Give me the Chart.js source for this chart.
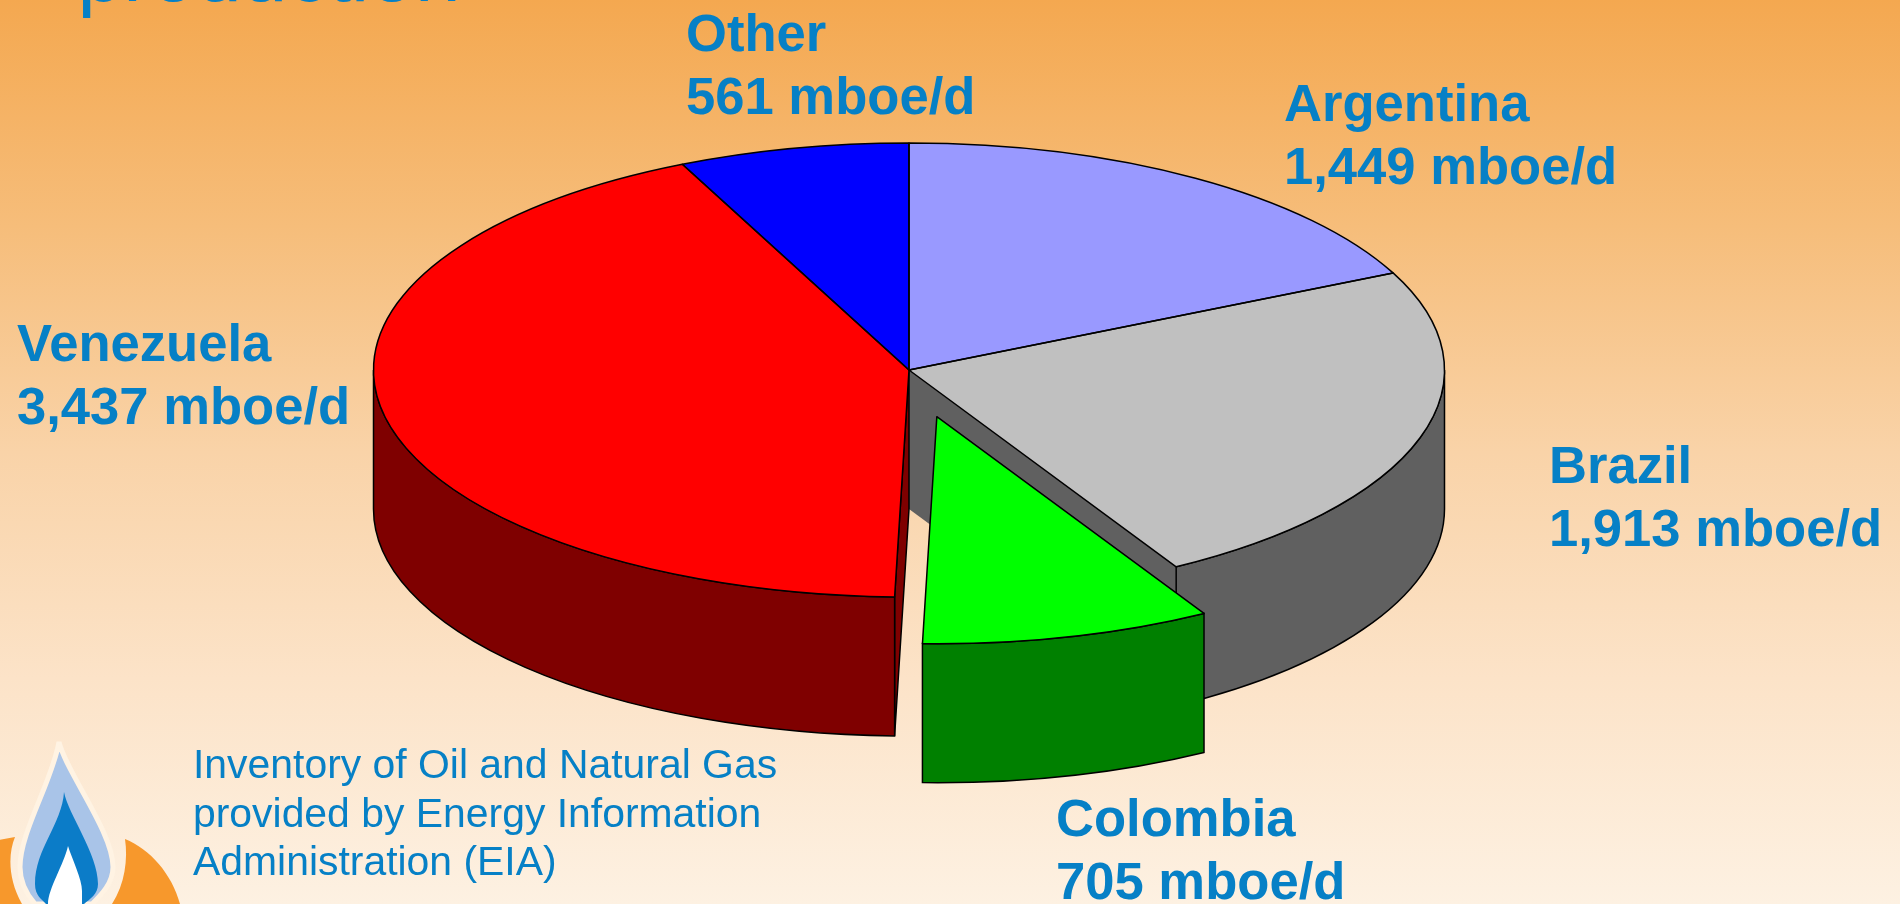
<!DOCTYPE html>
<html>
<head>
<meta charset="utf-8">
<title>South America production</title>
<script src="https://cdn.jsdelivr.net/npm/chart.js@4/dist/chart.umd.js"></script>
<style>
  html, body { margin: 0; padding: 0; width: 1900px; height: 904px; overflow: hidden; }
  body { position: relative; background: linear-gradient(180deg, #f4a850 0%, #f6bd7a 25%, #f9d3a8 50%, #fce3c8 75%, #fdf1e2 100%); font-family: "Liberation Sans", Arial, sans-serif; color: #0680c6; }
  canvas { position: absolute; left: 0; top: 0; }
  .lbl { position: absolute; font-weight: bold; font-size: 52.6px; line-height: 63px; white-space: nowrap; }
  .note { position: absolute; left: 193px; top: 740px; font-size: 40.9px; line-height: 48.5px; white-space: nowrap; }
  .title { position: absolute; left: 77.6px; top: -77px; font-size: 82px; line-height: 100px; white-space: nowrap; }
  svg { position: absolute; left: 0; top: 724px; }
</style>
</head>
<body>
<div class="title">production</div>
<svg width="200" height="180" viewBox="0 0 200 180">
  <path d="M-2 116 L15 113 C8 130 8 155 22 180 L-2 180 Z" fill="#f7982c"/>
  <path d="M125 115 C150 125 172 150 180 180 L112 180 C125 160 128 135 125 115 Z" fill="#f7982c"/>
  <path d="M59 18 C66 48 113 108 113 143 C113 160 100 172 92 180 L35 180 C28 172 20 160 20 143 C20 108 52 58 59 18 Z" fill="#a9c4e8" stroke="#fff3e3" stroke-width="5"/>
  <path d="M64 68 C68 90 98 130 98 160 C98 170 90 175 84 180 L46 180 C42 175 35 172 35 160 C35 125 62 100 64 68 Z" fill="#0b7cc8"/>
  <path d="M68 122 C72 135 82 155 82 167 L82 180 L48 180 C48 165 64 140 68 122 Z" fill="#ffffff"/>
</svg>
<canvas id="pie" width="1900" height="904"></canvas>
<div class="note">Inventory of Oil and Natural Gas<br>provided by Energy Information<br>Administration (EIA)</div>
<script>
const categories = ["Argentina", "Brazil", "Colombia", "Venezuela", "Other"];
const production = [1449, 1913, 705, 3437, 561];
const topColors = ["#9999ff", "#c0c0c0", "#00ff00", "#ff0000", "#0000ff"];
const wallColors = ["#5f5f9f", "#606060", "#008000", "#7f0000", "#00007f"];
const explodedSlice = "Colombia";

// label spots, left / first baseline in page pixels
const labelSpots = {
  Argentina: [1284, 117.5],
  Brazil: [1549, 480],
  Colombia: [1056, 833],
  Venezuela: [17, 357.5],
  Other: [686, 48],
};

const tilt = 0.424;
const depth = 139;
const radius = 535.5;
const explodeBy = 113.5;
const outline = 1.5;

categories.forEach((name, i) => {
  const d = document.createElement("div");
  d.className = "lbl";
  d.style.left = labelSpots[name][0] + "px";
  d.style.top = (labelSpots[name][1] - 47) + "px";
  d.innerHTML = name + "<br>" + production[i].toLocaleString("en-US") + " mboe/d";
  document.body.appendChild(d);
});

// outer rim wall, only the part facing the viewer
function wallPath(ctx, el) {
  const from = Math.max(el.startAngle, 0);
  const to = Math.min(el.endAngle, Math.PI);
  if (to <= from) return false;
  const r = el.outerRadius;
  ctx.beginPath();
  ctx.ellipse(el.x, el.y, r, r * tilt, 0, from, to);
  ctx.ellipse(el.x, el.y + depth, r, r * tilt, 0, to, from, true);
  ctx.closePath();
  return true;
}

// flat side of the cut, seen through the gap left by the pulled out slice
function cutPath(ctx, el, angle) {
  const r = el.outerRadius;
  const rx = el.x + Math.cos(angle) * r;
  const ry = el.y + Math.sin(angle) * r * tilt;
  ctx.beginPath();
  ctx.moveTo(el.x, el.y);
  ctx.lineTo(rx, ry);
  ctx.lineTo(rx, ry + depth);
  ctx.lineTo(el.x, el.y + depth);
  ctx.closePath();
}

const pie3d = {
  id: "pie3d",
  afterDatasetsUpdate(chart) {
    const arcs = chart.getDatasetMeta(0).data;
    const el = arcs[categories.indexOf(explodedSlice)];
    const mid = (el.startAngle + el.endAngle) / 2;
    el.x += Math.cos(mid) * explodeBy;
    el.y += Math.sin(mid) * explodeBy * tilt;
  },
  beforeDatasetsDraw(chart) {
    const ctx = chart.ctx;
    const arcs = chart.getDatasetMeta(0).data;
    const iExp = categories.indexOf(explodedSlice);
    ctx.save();
    ctx.lineWidth = outline;
    ctx.strokeStyle = "#000";
    // neighbours of the exploded slice first, exploded one last
    const order = arcs.map((_, i) => i).filter(i => i !== iExp).concat(iExp);
    order.forEach(i => {
      const el = arcs[i];
      if (i === iExp - 1) {
        cutPath(ctx, el, el.endAngle);
        ctx.fillStyle = wallColors[i];
        ctx.fill();
      }
      if (i === iExp + 1) {
        cutPath(ctx, el, el.startAngle);
        ctx.fillStyle = wallColors[i];
        ctx.fill();
        ctx.stroke();
      }
      if (wallPath(ctx, el)) {
        ctx.fillStyle = wallColors[i];
        ctx.fill();
        ctx.stroke();
      }
    });
    ctx.restore();
    // squash the library's round pie into the tilted disc
    const c = arcs[0];
    ctx.save();
    ctx.translate(0, c.y);
    ctx.scale(1, tilt);
    ctx.translate(0, -c.y);
    // exploded slice keeps its own y, so undo the squash on its offset
    const e = arcs[iExp];
    e.$screenY = e.y;
    e.y = c.y + (e.y - c.y) / tilt;
  },
  afterDatasetsDraw(chart) {
    const ctx = chart.ctx;
    const arcs = chart.getDatasetMeta(0).data;
    const iExp = categories.indexOf(explodedSlice);
    const e = arcs[iExp];
    e.y = e.$screenY;
    ctx.restore();
    // outlines stay the same width all round
    ctx.save();
    ctx.lineWidth = outline;
    ctx.strokeStyle = "#000";
    ctx.lineJoin = "round";
    arcs.forEach(el => {
      const r = el.outerRadius;
      ctx.beginPath();
      ctx.moveTo(el.x, el.y);
      ctx.ellipse(el.x, el.y, r, r * tilt, 0, el.startAngle, el.endAngle);
      ctx.closePath();
      ctx.stroke();
    });
    ctx.restore();
  },
};

new Chart(document.getElementById("pie"), {
  type: "pie",
  data: {
    labels: categories,
    datasets: [{
      data: production,
      backgroundColor: topColors,
      borderWidth: 0,
      radius: radius,
      clip: false,
    }],
  },
  options: {
    responsive: false,
    animation: false,
    layout: { padding: { right: 82, bottom: 164 } },
    plugins: { legend: { display: false }, tooltip: { enabled: false } },
  },
  plugins: [pie3d],
});
</script>
</body>
</html>
